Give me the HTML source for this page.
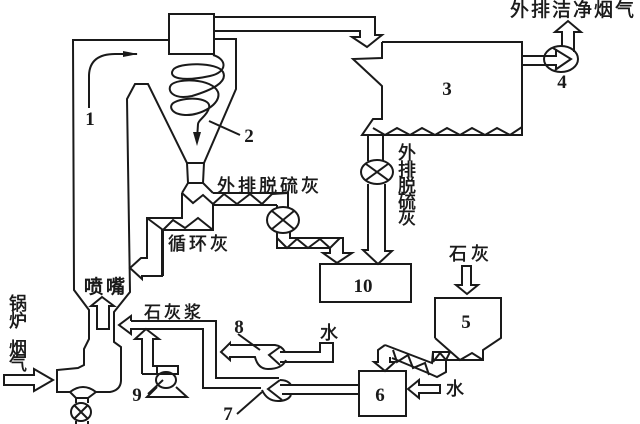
<!DOCTYPE html>
<html><head><meta charset="utf-8">
<style>
html,body{margin:0;padding:0;background:#fff;width:640px;height:424px;overflow:hidden}
svg{display:block}
text{font-family:"Liberation Serif","Noto Serif CJK SC",serif;fill:#1a1a1a}
.c{font-family:"Noto Sans CJK SC","WenQuanYi Zen Hei",sans-serif;font-size:18px;stroke:#1a1a1a;stroke-width:.5}
.n{font-size:19px;font-weight:bold;text-anchor:middle}
</style></head><body>
<svg width="640" height="424" viewBox="0 0 640 424" xmlns="http://www.w3.org/2000/svg">
<g fill="none" stroke="#1a1a1a" stroke-width="2" stroke-linejoin="miter">
<!-- cyclone and tower -->
<rect x="169" y="14" width="45" height="40"/>
<path d="M169 40H73L74 290L89 310V339L84 349V365L78 368L57 370V392H70Q83 382 96 392H110Q121 390 121 380V347L114 342V312L130 292L127 99L135 84H148L187 163L188 183L182 193"/>
<path d="M214 39H236V89L204 163L203 183L213 193"/>
<path d="M187 163H204M188 183H203"/>
<!-- spiral -->
<path d="M213 55C227 59 228 72 210 76C182 82 168 78 173 70C178 62 218 62 223 72C228 82 212 90 192 96C172 100 167 90 171 85C177 78 212 78 218 92C222 104 200 116 185 115C170 114 168 105 175 102C188 96 212 98 209 108C207 116 198 120 198 124L197 140"/>
<path d="M209 121L240 135"/>
<!-- arrow 1 -->
<path d="M89 108V75Q90 54 115 54H137"/>
<!-- duct to 3 -->
<path d="M214 14V17H375V35H382L367 47L352 37H360V31H214"/>
<!-- box 3 -->
<path d="M382 42H522V135H362L373 119H382V86L353 59L382 58V42"/>
<path d="M373 128L385 135L397 128L410 135L422 128L435 135L447 128L460 135L472 128L485 135L497 128L510 135L522 127"/>
<!-- fan 4 -->
<ellipse cx="561" cy="59" rx="17" ry="13"/>
<path d="M522 56H545M522 65H545"/>
<path d="M553 48L571 59L555 70M544 56H556V49M544 65H556V69"/>
<path d="M562 46V32H555L568 21L581 32H574V52"/>
<!-- valve under 3 -->
<path d="M368 136V161M383 136V161M368 184V250H363L378 264L392 251H385V184"/>
<ellipse cx="377" cy="172" rx="16" ry="12"/>
<path d="M366 164L388 180M388 164L366 180"/>
<!-- box 10 -->
<rect x="320" y="264" width="91" height="38"/>
<!-- screw from hopper -->
<path d="M182 193V218H147V258H141L130 268L142 279V276H162V230H213V205H277"/>
<path d="M213 193H288V207M182 193L193 203L203 195L213 204L224 194L237 204L250 194L262 204L272 194L288 193"/>
<path d="M147 218L163 230V276M163 230L173 220L185 228L198 218L213 230"/>
<ellipse cx="283" cy="220" rx="16" ry="13"/>
<path d="M272 211L294 229M294 211L272 229"/>
<path d="M277 205V208M277 232V248H330V253H323L337 263L352 253H343V238H290V232"/>
<path d="M277 238L287 248L297 239L308 248L320 239L330 248L340 238"/>
<!-- nozzle arrow -->
<path d="M97 329V306H91L102 297L114 306H109V329Z"/>
<!-- boiler inlet -->
<path d="M4 375H34V369L53 380L34 391V385H4Z"/>
<!-- bottom valve -->
<path d="M70 392L76 398H88L96 392M76 398V403M88 398V403M76 421V424M88 421V424"/>
<ellipse cx="81" cy="412" rx="10" ry="9"/>
<path d="M74 405L88 419M88 405L74 419"/>
<!-- slurry lines -->
<path d="M131 321V316L119 325L131 334V329H203V388H261"/>
<path d="M131 321H216V378H279"/>
<!-- pump 7 -->
<path d="M280 380Q288 380 291 385M262 390Q267 401 278 401Q288 401 291 395"/>
<path d="M280 380L268 389L282 400M280 385H359M282 394H359"/>
<rect x="359" y="371" width="47" height="45"/>
<!-- pump 8 -->
<path d="M230 345V343L221 352L230 360V357H255Q258 369 268 369Q282 369 286 360M230 345H275Q282 346 285 352"/>
<path d="M280 347L269 355L280 365M280 352H320V343H333V362H280"/>
<path d="M238 334L260 350"/>
<!-- pump 9 -->
<ellipse cx="166" cy="380" rx="10" ry="8"/>
<path d="M157 387L147 397H187L176 387M148 394L163 380"/>
<path d="M142 374V339H135L146 329L159 339H153V366H178V374H142"/>
<path d="M153 374H157M157 366V374"/>
<path d="M237 414L262 392"/>
<!-- hopper 5 -->
<path d="M435 338V298H501V338L483 350V360H433V352H450M435 338L460 360L472 353L483 360"/>
<path d="M385 345L432 363L433 352M392 358L428 373L437 377L446 372V361"/>
<path d="M385 345L378 350V362H374L385 371L395 362H390V357"/>
<path d="M393 350L397 362L408 355L413 368L425 363L429 375M433 362L440 353L446 360L450 352"/>
<!-- lime arrow -->
<path d="M462 266H471V285H478L467 294L456 285H462Z"/>
<!-- water arrow -->
<path d="M440 385H419V380L408 389L419 398V393H440Z"/>
</g>
<!-- arrowheads -->
<path d="M123 51L138 54L123 57Z" fill="#1a1a1a"/>
<path d="M193 132L197 146L201 132Z" fill="#1a1a1a"/>
<!-- numbers -->
<text class="n" x="90" y="125">1</text>
<text class="n" x="249" y="142">2</text>
<text class="n" x="447" y="95">3</text>
<text class="n" x="562" y="88">4</text>
<text class="n" x="466" y="328">5</text>
<text class="n" x="380" y="401">6</text>
<text class="n" x="228" y="420">7</text>
<text class="n" x="239" y="333">8</text>
<text class="n" x="137" y="401">9</text>
<text class="n" x="363" y="292">10</text>
<!-- labels -->
<text class="c" x="510" y="16" style="letter-spacing:2px;font-size:19px">外排洁净烟气</text>
<text class="c" x="217" y="192" style="letter-spacing:3px">外排脱硫灰</text>
<text class="c" x="168" y="250" style="letter-spacing:3px">循环灰</text>
<text class="c" x="84" y="293" style="letter-spacing:3px;font-size:19px;stroke-width:.8">喷嘴</text>
<text class="c" x="144" y="318" style="letter-spacing:3px;font-size:17px">石灰浆</text>
<text class="c" x="320" y="339">水</text>
<text class="c" x="449" y="260" style="letter-spacing:4px">石灰</text>
<text class="c" x="446" y="395">水</text>
<text class="c" x="398" y="159">外</text>
<text class="c" x="398" y="176">排</text>
<text class="c" x="398" y="192">脱</text>
<text class="c" x="398" y="208">硫</text>
<text class="c" x="398" y="224">灰</text>
<text class="c" x="9" y="310">锅</text>
<text class="c" x="9" y="327">炉</text>
<text class="c" x="9" y="355">烟</text>
<text class="c" x="9" y="370">气</text>
</svg>
</body></html>
